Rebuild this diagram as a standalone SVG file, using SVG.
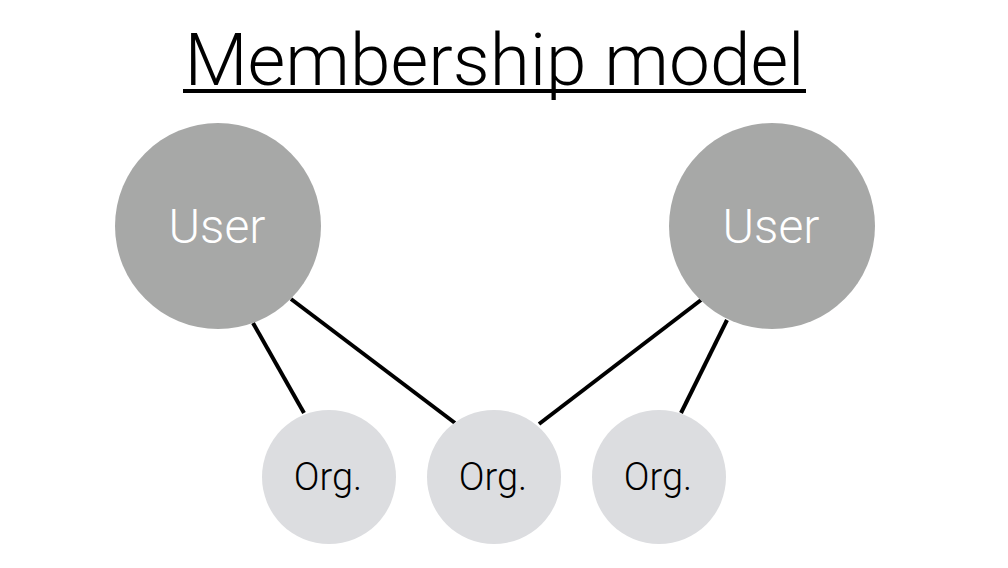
<svg xmlns="http://www.w3.org/2000/svg" width="1008" height="568" viewBox="0 0 1008 568">
<style>
.user{fill:#a7a8a7}
.org{fill:#dcdde0}
.ut{font-family:Roboto,"Liberation Sans",sans-serif;font-weight:300;font-size:48px;fill:#ffffff;text-anchor:middle}
.ot{font-family:Roboto,"Liberation Sans",sans-serif;font-weight:300;font-size:38px;fill:#000000;text-anchor:middle}
.title{font-family:Roboto,"Liberation Sans",sans-serif;font-weight:300;font-size:72px;fill:#000000;text-anchor:middle}
.edge{stroke:#000;stroke-width:4;fill:none}
</style>
<rect width="1008" height="568" fill="#ffffff"/>
<g id="title">
<text class="title" x="494.5" y="85" textLength="620" lengthAdjust="spacingAndGlyphs">Membership model</text>
<rect x="183" y="89" width="623" height="4" fill="#000"/>
</g>
<g id="connectors">
<line class="edge" x1="253" y1="323" x2="304" y2="413"/>
<line class="edge" x1="291" y1="299" x2="455" y2="423"/>
<line class="edge" x1="701" y1="300" x2="539" y2="424"/>
<line class="edge" x1="727" y1="320" x2="681" y2="413"/>
</g>
<g id="user1">
<circle class="user" cx="218" cy="226" r="103"/>
<text class="ut" x="217" y="243">User</text>
</g>
<g id="user2">
<circle class="user" cx="772" cy="226" r="103"/>
<text class="ut" x="771" y="243">User</text>
</g>
<g id="org1">
<circle class="org" cx="329" cy="477" r="67"/>
<text class="ot" x="328" y="490">Org.</text>
</g>
<g id="org2">
<circle class="org" cx="494" cy="477" r="67"/>
<text class="ot" x="493" y="490">Org.</text>
</g>
<g id="org3">
<circle class="org" cx="659" cy="477" r="67"/>
<text class="ot" x="658" y="490">Org.</text>
</g>
</svg>
